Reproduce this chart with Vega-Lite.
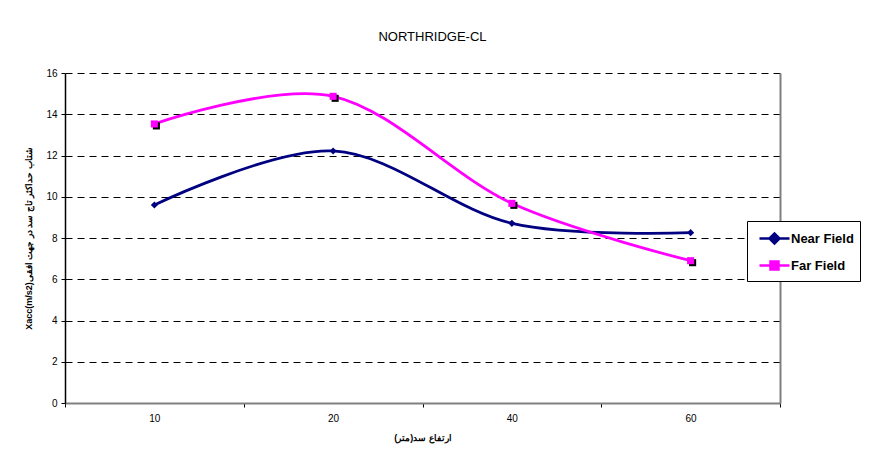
{
  "$schema": "https://vega.github.io/schema/vega-lite/v6.json",
  "autosize": "none",
  "width": 715,
  "height": 330,
  "padding": {"left": 65, "top": 73, "right": 93, "bottom": 46},
  "background": "white",
  "config": {
    "font": "Liberation Sans",
    "view": {"stroke": null},
    "axis": {"labelFont": "Liberation Sans", "titleFont": "Liberation Sans"}
  },
  "title": {"text": "NORTHRIDGE-CL", "fontSize": 13, "fontWeight": "normal", "font": "Liberation Sans", "color": "black", "offset": 24, "dx": 10},
  "data": {"values": [
    {"h": "10", "series": "Near Field", "v": 9.6},
    {"h": "20", "series": "Near Field", "v": 12.22},
    {"h": "40", "series": "Near Field", "v": 8.71},
    {"h": "60", "series": "Near Field", "v": 8.26},
    {"h": "10", "series": "Far Field", "v": 13.53},
    {"h": "20", "series": "Far Field", "v": 14.87},
    {"h": "40", "series": "Far Field", "v": 9.68},
    {"h": "60", "series": "Far Field", "v": 6.9}
  ]},
  "encoding": {
    "x": {"field": "h", "type": "ordinal", "scale": {"type": "band", "paddingInner": 0, "paddingOuter": 0},
      "axis": {"title": "ارتفاع سد(متر)", "titleFontSize": 9, "titleFontWeight": "bold", "titlePadding": 10, "labelAngle": 0, "labelFontSize": 10, "labelPadding": 6, "tickBand": "extent", "tickSize": 4, "tickColor": "black", "domainColor": "#808080", "domainWidth": 2, "grid": false, "labelColor": "black", "titleColor": "black"}}
  },
  "layer": [
    {
      "mark": {"type": "line", "interpolate": "cardinal", "tension": 0, "strokeWidth": 2.8},
      "encoding": {
        "y": {"field": "v", "type": "quantitative", "scale": {"domain": [0, 16], "nice": false},
          "axis": {"title": "Xacc(m/s2)شتاب حداکثر تاج سد در جهت افقی", "titleFontSize": 9, "titleFontWeight": "bold", "titlePadding": 12, "values": [0,2,4,6,8,10,12,14,16], "labelFontSize": 10, "labelPadding": 4, "tickSize": 4, "tickColor": "black", "domainColor": "black", "domainWidth": 1.5, "grid": true, "gridColor": "black", "gridDash": [7, 5], "gridWidth": 1, "labelColor": "black", "titleColor": "black"}},
        "color": {"field": "series", "type": "nominal",
          "scale": {"domain": ["Near Field", "Far Field"], "range": ["#000080", "#FF00FF"]},
          "legend": {"title": null, "orient": "none", "legendX": 682, "legendY": 148, "strokeColor": "black", "fillColor": "white", "padding": 6, "symbolOffset": 10, "labelFontSize": 13, "labelFontWeight": "bold", "labelFont": "Liberation Sans", "labelColor": "black", "symbolSize": 400, "symbolStrokeWidth": 2.5, "rowPadding": 5, "labelOffset": 5,
            "encode": {"symbols": {"update": {
              "shape": {"signal": "datum.value === 'Near Field' ? 'M-1.5,0H1.5M-0.5,0L0,-0.5L0.5,0L0,0.5Z' : 'M-1.5,0H1.5M-0.4,-0.4H0.4V0.4H-0.4Z'"},
              "fill": {"signal": "datum.value === 'Near Field' ? '#000080' : '#FF00FF'"},
              "stroke": {"signal": "datum.value === 'Near Field' ? '#000080' : '#FF00FF'"}
            }}}}
        }
      }
    },
    {
      "transform": [{"filter": "datum.series === 'Far Field'"}],
      "mark": {"type": "point", "shape": "square", "filled": true, "color": "black", "opacity": 1, "size": 50, "xOffset": 2, "yOffset": 2},
      "encoding": {"y": {"field": "v", "type": "quantitative", "axis": {"orient": "right", "title": null, "labels": false, "ticks": false, "grid": false, "domainColor": "#808080", "domainWidth": 2}}}
    },
    {
      "transform": [{"filter": "datum.series === 'Far Field'"}],
      "mark": {"type": "point", "shape": "square", "filled": true, "color": "#FF00FF", "opacity": 1, "size": 50},
      "encoding": {"y": {"field": "v", "type": "quantitative", "axis": null}}
    },
    {
      "transform": [{"filter": "datum.series === 'Near Field'"}],
      "mark": {"type": "point", "shape": "diamond", "filled": true, "color": "#000080", "opacity": 1, "size": 50},
      "encoding": {"y": {"field": "v", "type": "quantitative", "axis": null}}
    }
  ],
  "resolve": {"axis": {"y": "independent"}}
}
